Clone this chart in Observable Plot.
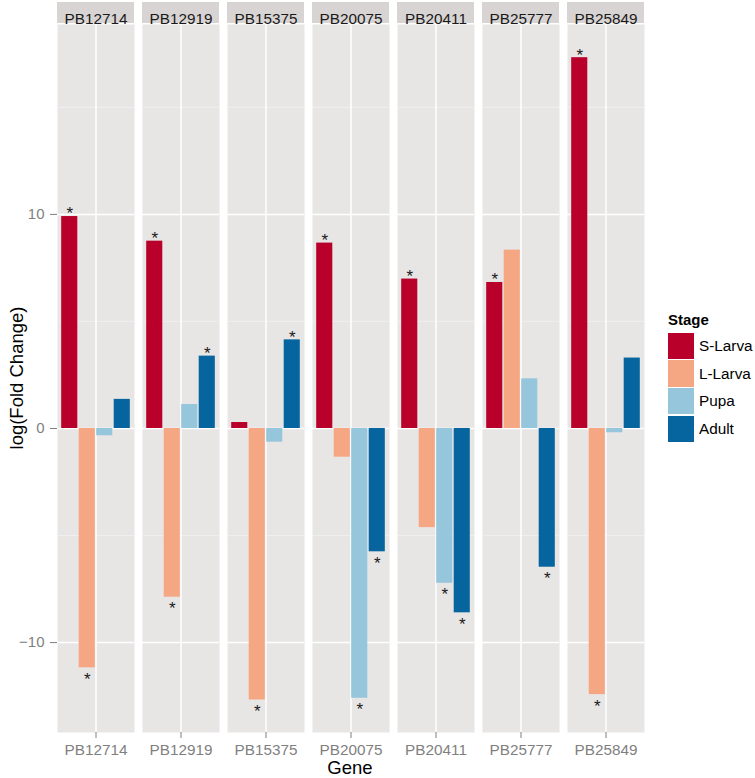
<!DOCTYPE html>
<html>
<head>
<meta charset="utf-8">
<script src="https://cdn.jsdelivr.net/npm/d3@7"></script>
<script src="https://cdn.jsdelivr.net/npm/@observablehq/plot@0.6"></script>
<style>
  body { margin: 0; background: #ffffff; font-family: "Liberation Sans", Arial, sans-serif; }
  #wrap { position: relative; width: 755px; height: 778px; background: #ffffff; }
  #wrap svg { position: absolute; left: 0; top: 0; }
  .strip { position: absolute; top: 2px; height: 20.5px; background: #D8D4D3; }
  .ttl { position: absolute; color: #000; white-space: nowrap; }
  .legend { position: absolute; left: 668px; top: 310px; }
  .legend .head { font-weight: bold; font-size: 15px; height: 22px; line-height: 20px; }
  .legend .row { display: flex; align-items: center; height: 27.7px; }
  .legend .key { width: 26px; height: 26.5px; margin-right: 5px; }
  .legend .lab { font-size: 15.3px; }
</style>
</head>
<body>
<div id="wrap"></div>
<script>
const genes = ["PB12714","PB12919","PB15375","PB20075","PB20411","PB25777","PB25849"];
const stages = ["S-Larva","L-Larva","Pupa","Adult"];
const stageColors = ["#B8002A","#F5A682","#96C6DC","#06659F"];

const sLarva = [9.9, 8.75, 0.28, 8.66, 6.98, 6.82, 17.32];
const lLarva = [-11.18, -7.88, -12.68, -1.34, -4.63, 8.33, -12.43];
const pupa   = [-0.34, 1.12, -0.64, -12.6, -7.23, 2.32, -0.2];
const adult  = [1.36, 3.38, 4.14, -5.76, -8.61, -6.48, 3.29];

const sLarvaSig = [1,1,0,1,1,1,1];
const lLarvaSig = [1,1,1,0,0,0,1];
const pupaSig   = [0,0,0,1,1,0,0];
const adultSig  = [0,1,1,1,1,1,0];

const yTicks = [-10, 0, 10];
const yMinor = [-5, 5, 15];

const series = [sLarva, lLarva, pupa, adult];
const sigs = [sLarvaSig, lLarvaSig, pupaSig, adultSig];
const data = [];
genes.forEach((g, i) => stages.forEach((s, j) => {
  data.push({gene: g, stage: s, value: series[j][i], sig: sigs[j][i] === 1});
}));
const sigPos = data.filter(d => d.sig && d.value >= 0);
const sigNeg = data.filter(d => d.sig && d.value < 0);

const font = "'Liberation Sans', Arial, sans-serif";

const chart = Plot.plot({
  width: 755,
  height: 778,
  marginLeft: 57,
  marginRight: 111,
  marginTop: 24,
  marginBottom: 46,
  style: {fontFamily: font, fontSize: "15px", background: "transparent"},
  fx: {domain: genes, paddingInner: 0.094, paddingOuter: 0, round: false, label: null},
  x: {domain: stages, paddingInner: 0, paddingOuter: 0.2, round: false, axis: null},
  y: {domain: [-14.2, 18.87], label: null},
  color: {domain: stages, range: stageColors},
  marks: [
    Plot.frame({fill: "#E8E5E5", stroke: null}),
    Plot.gridY({ticks: yMinor, stroke: "#F3F1F1", strokeOpacity: 1, strokeWidth: 0.8}),
    Plot.gridY({ticks: yTicks, stroke: "#FFFFFF", strokeOpacity: 1, strokeWidth: 1.5}),
    Plot.gridFx({stroke: "#FFFFFF", strokeOpacity: 1, strokeWidth: 1.5}),
    Plot.barY(data, {fx: "gene", x: "stage", y: "value", fill: "stage", insetLeft: 0.7, insetRight: 0.7}),
    Plot.text(sigPos, {fx: "gene", x: "stage", y: "value", text: () => "*", fontSize: 17, fill: "#1A1A1A", dy: -2.6}),
    Plot.text(sigNeg, {fx: "gene", x: "stage", y: "value", text: () => "*", fontSize: 17, fill: "#1A1A1A", dy: 11.7}),
    Plot.text(genes, {fx: d => d, text: d => d, frameAnchor: "top", dy: -11, fontSize: 15.3, fill: "#1A1A1A"}),
    Plot.axisY({ticks: yTicks, tickSize: 7, tickPadding: 6, fill: "#7F7F7F", stroke: "#7F7F7F", fontSize: 15, label: null}),
    Plot.axisFx({anchor: "bottom", tickSize: 6, tickPadding: 6, fill: "#7F7F7F", stroke: "#7F7F7F", fontSize: 15.3, label: null})
  ]
});

const wrap = document.getElementById("wrap");

// facet strips placed with the fx scale, behind the transparent svg
const fx = chart.scale("fx");
genes.forEach(g => {
  const s = document.createElement("div");
  s.className = "strip";
  s.style.left = fx.apply(g) + "px";
  s.style.width = fx.bandwidth + "px";
  wrap.appendChild(s);
});
wrap.appendChild(chart);

const xTitle = document.createElement("div");
xTitle.className = "ttl";
xTitle.textContent = "Gene";
xTitle.style.cssText += "left:350px; top:759px; transform:translateX(-50%); font-size:18.5px; line-height:18px;";
wrap.appendChild(xTitle);

const yTitle = document.createElement("div");
yTitle.className = "ttl";
yTitle.textContent = "log(Fold Change)";
yTitle.style.cssText += "left:17px; top:378px; transform:translate(-50%,-50%) rotate(-90deg); font-size:18.5px; line-height:20px;";
wrap.appendChild(yTitle);

const legend = document.createElement("div");
legend.className = "legend";
let html = '<div class="head">Stage</div>';
stages.forEach((s, i) => {
  html += '<div class="row"><div class="key" style="background:' + stageColors[i] + '"></div><div class="lab">' + s + '</div></div>';
});
legend.innerHTML = html;
wrap.appendChild(legend);
</script>
</body>
</html>
